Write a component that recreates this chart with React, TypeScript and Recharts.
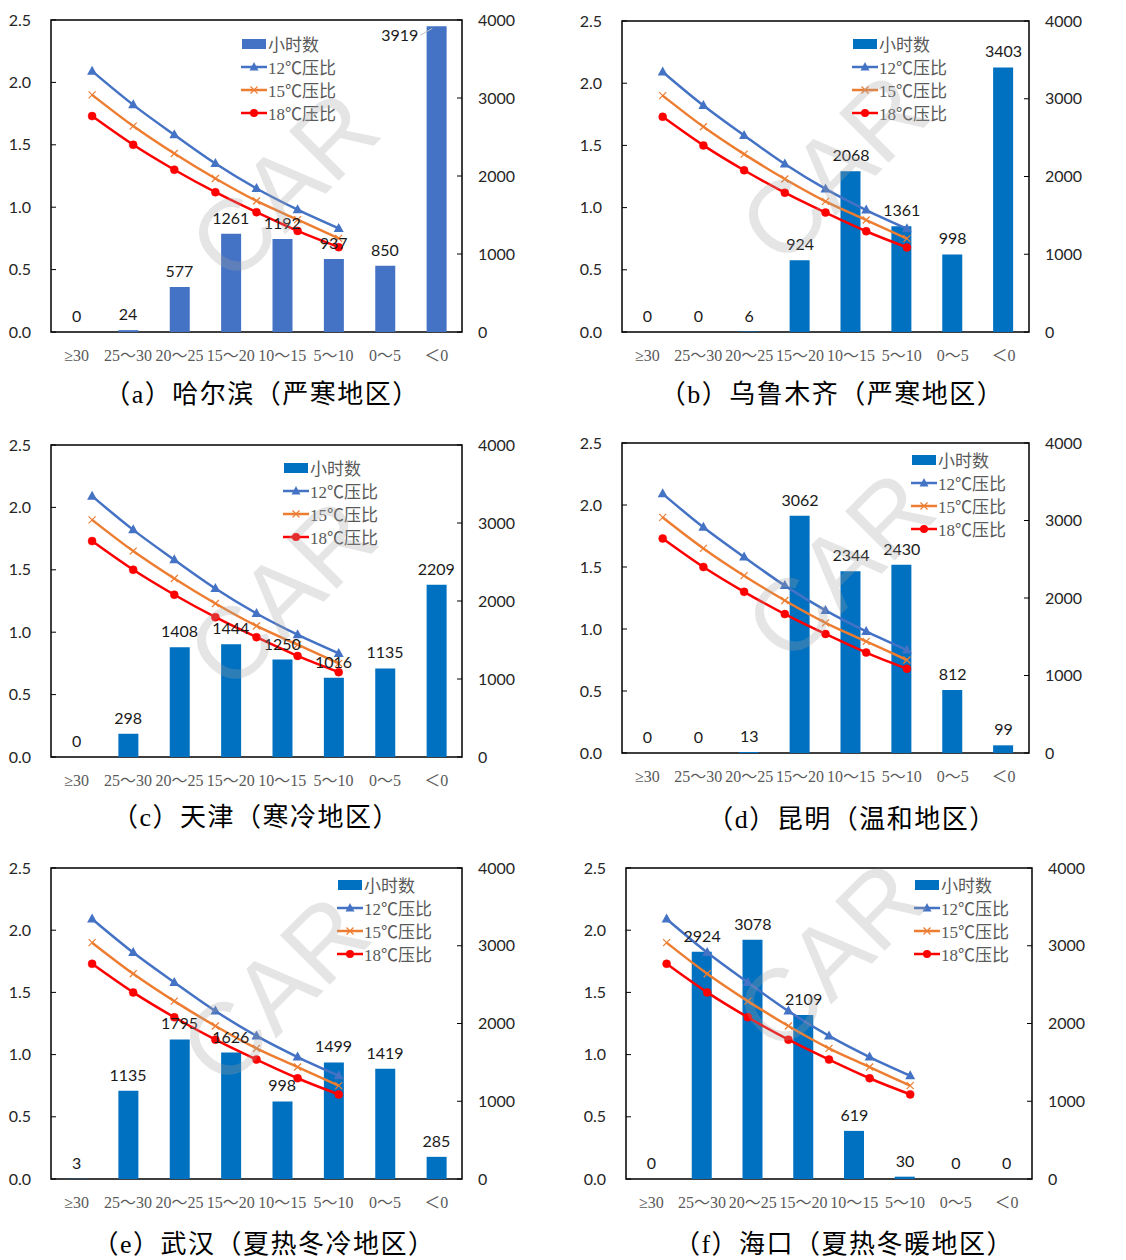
import React from "react";
import { ComposedChart, Bar, Line, XAxis, YAxis, Legend, LabelList, ReferenceArea } from "recharts";

const FONT_NUM = "Lato, 'Liberation Sans', sans-serif";
const FONT_SERIF = "'Liberation Serif', 'Noto Sans CJK SC', serif";

// temperature bins (℃) on the bar axis
const categories = ["≥30", "25～30", "20～25", "15～20", "10～15", "5～10", "0～5", "＜0"];

// annual hours per bin
const hoursHarbin = [0, 24, 577, 1261, 1192, 937, 850, 3919];
const hoursUrumqi = [0, 0, 6, 924, 2068, 1361, 998, 3403];
const hoursTianjin = [0, 298, 1408, 1444, 1250, 1016, 1135, 2209];
const hoursKunming = [0, 0, 13, 3062, 2344, 2430, 812, 99];
const hoursWuhan = [3, 1135, 1795, 1626, 998, 1499, 1419, 285];
const hoursHaikou = [0, 2924, 3078, 2109, 619, 30, 0, 0];

// pressure ratio curves, plotted against outdoor temperature
const outdoorTemps = [30, 25, 20, 15, 10, 5, 0];
const ratio12 = [2.09, 1.82, 1.58, 1.35, 1.15, 0.98, 0.83];
const ratio15 = [1.9, 1.65, 1.43, 1.23, 1.05, 0.9, 0.75];
const ratio18 = [1.73, 1.5, 1.3, 1.12, 0.96, 0.81, 0.68];

const ratioTicks = [0, 0.5, 1, 1.5, 2, 2.5];
const hourTicks = [0, 1000, 2000, 3000, 4000];

const titles = [
  "（a）哈尔滨（严寒地区）",
  "（b）乌鲁木齐（严寒地区）",
  "（c）天津（寒冷地区）",
  "（d）昆明（温和地区）",
  "（e）武汉（夏热冬冷地区）",
  "（f）海口（夏热冬暖地区）",
];

const lineData = outdoorTemps.map((t, i) => ({ t, r12: ratio12[i], r15: ratio15[i], r18: ratio18[i] }));

// layout of each panel: origin, width, plot box [l, t, r, b], legend, watermark, title centre
const panels = [
  { hours: hoursHarbin, color: "#4472C4", x: 0, y: 0, w: 560, plot: [51, 20, 462, 332], legend: [241, 32], mark: [284, 186], titleAt: [262, 395] },
  { hours: hoursUrumqi, color: "#0070C0", x: 560, y: 0, w: 566, plot: [62, 21, 469, 332], legend: [292, 32], mark: [274, 168], titleAt: [272, 395] },
  { hours: hoursTianjin, color: "#0070C0", x: 0, y: 420, w: 560, plot: [51, 25, 462, 337], legend: [283, 36], mark: [282, 174], titleAt: [256, 398] },
  { hours: hoursKunming, color: "#0070C0", x: 560, y: 420, w: 566, plot: [62, 23, 469, 333], legend: [351, 28], mark: [280, 146], titleAt: [292, 400] },
  { hours: hoursWuhan, color: "#0070C0", x: 0, y: 840, w: 560, plot: [51, 28, 462, 339], legend: [337, 33], mark: [275, 150], titleAt: [264, 405] },
  { hours: hoursHaikou, color: "#0070C0", x: 560, y: 840, w: 566, plot: [66, 28, 472, 339], legend: [354, 33], mark: [270, 116], titleAt: [284, 405] },
];

const LeftTick = (props: any) => {
  const { y, payload, axisX } = props;
  return (
    <g>
      <line x1={axisX} x2={axisX + 5} y1={y} y2={y} stroke="#000" strokeWidth={1} />
      <text x={axisX - 20} y={y} dy="0.35em" textAnchor="end" fontSize={16} fontFamily={FONT_NUM} fill="#262626">
        {Number(payload.value).toFixed(1)}
      </text>
    </g>
  );
};

const RightTick = (props: any) => {
  const { y, payload, axisX } = props;
  return (
    <g>
      <line x1={axisX - 5} x2={axisX} y1={y} y2={y} stroke="#000" strokeWidth={1} />
      <text x={axisX + 16} y={y} dy="0.35em" textAnchor="start" fontSize={16} fontFamily={FONT_NUM} fill="#262626">
        {payload.value}
      </text>
    </g>
  );
};

const triDot = (props: any) => {
  const { cx, cy, index } = props;
  return <path key={`tri-${index}`} d={`M${cx},${cy - 5.5} L${cx + 5},${cy + 3.5} L${cx - 5},${cy + 3.5} Z`} fill="#4472C4" />;
};

const crossDot = (props: any) => {
  const { cx, cy, index } = props;
  const s = 3.5;
  return (
    <path
      key={`x-${index}`}
      d={`M${cx - s},${cy - s} L${cx + s},${cy + s} M${cx - s},${cy + s} L${cx + s},${cy - s}`}
      stroke="#ED7D31"
      strokeWidth={1.2}
      fill="none"
    />
  );
};

const circleDot = (props: any) => {
  const { cx, cy, index } = props;
  return <circle key={`c-${index}`} cx={cx} cy={cy} r={4} fill="#FF0000" stroke="#FF0000" strokeWidth={0.5} />;
};

// labels sit on an invisible line through the bar tops, so zero bins get their "0" too
const makeBarLabel = (plotTop: number) => (props: any) => {
  const x = Number(props.x);
  const y = Number(props.y);
  const style = { fontSize: 16, fontFamily: FONT_NUM, fill: "#1a1a1a" };
  if (y - plotTop < 14) {
    // no room above the bar: placed to the left with a leader
    const left = x - 10;
    return (
      <g>
        <text x={left - 8} y={y + 15} textAnchor="end" {...style}>
          {props.value}
        </text>
        <line x1={left - 6} y1={y + 9} x2={left + 6} y2={y + 2} stroke="#bfbfbf" strokeWidth={1} />
      </g>
    );
  }
  return (
    <text x={x} y={y - 10} textAnchor="middle" {...style}>
      {props.value}
    </text>
  );
};

const makeLegend = (barColor: string) => () => {
  const items = [
    { name: "小时数", kind: "bar" },
    { name: "12℃压比", kind: "tri" },
    { name: "15℃压比", kind: "x" },
    { name: "18℃压比", kind: "dot" },
  ];
  return (
    <div style={{ fontFamily: FONT_SERIF, fontSize: 17, color: "#595959" }}>
      {items.map((it) => (
        <div key={it.name} style={{ display: "flex", alignItems: "center", height: 23, whiteSpace: "nowrap" }}>
          <svg width={26} height={14} style={{ display: "block" }}>
            {it.kind === "bar" && <rect x={1} y={2} width={24} height={10} fill={barColor} />}
            {it.kind === "tri" && (
              <g>
                <line x1={0} x2={26} y1={7} y2={7} stroke="#4472C4" strokeWidth={2.5} />
                <path d="M13,2 L17.5,10.5 L8.5,10.5 Z" fill="#4472C4" />
              </g>
            )}
            {it.kind === "x" && (
              <g>
                <line x1={0} x2={26} y1={7} y2={7} stroke="#ED7D31" strokeWidth={2.5} />
                <path d="M9.5,3.5 L16.5,10.5 M9.5,10.5 L16.5,3.5" stroke="#ED7D31" strokeWidth={1.2} />
              </g>
            )}
            {it.kind === "dot" && (
              <g>
                <line x1={0} x2={26} y1={7} y2={7} stroke="#FF0000" strokeWidth={2.5} />
                <circle cx={13} cy={7} r={4} fill="#FF0000" />
              </g>
            )}
          </svg>
          <span style={{ marginLeft: 1 }}>{it.name}</span>
        </div>
      ))}
    </div>
  );
};

function Panel({ p, title }: { p: any; title: string }) {
  const [l, t, r, b] = p.plot;
  const W = p.w;
  const H = b + 40;
  const barData = categories.map((cat, i) => ({ cat, hours: p.hours[i] }));

  return (
    <div style={{ position: "absolute", left: p.x, top: p.y, width: W, height: 420 }}>
      <ComposedChart width={W} height={H} data={barData} margin={{ top: t, right: W - r - 60, bottom: 0, left: 0 }}>
        <XAxis
          xAxisId="cat"
          dataKey="cat"
          height={40}
          interval={0}
          tickLine={false}
          axisLine={false}
          tickSize={0}
          tickMargin={18}
          tick={{ fill: "#595959", fontSize: 16, fontFamily: FONT_SERIF }}
        />
        <XAxis xAxisId="t" type="number" dataKey="t" domain={[-15, 35]} reversed hide allowDataOverflow />
        <YAxis
          yAxisId="ratio"
          width={l}
          domain={[0, 2.5]}
          ticks={ratioTicks}
          interval={0}
          axisLine={false}
          tickLine={false}
          tickSize={0}
          tick={(tp: any) => <LeftTick {...tp} axisX={l} />}
        />
        <YAxis
          yAxisId="hours"
          orientation="right"
          width={60}
          domain={[0, 4000]}
          ticks={hourTicks}
          interval={0}
          axisLine={false}
          tickLine={false}
          tickSize={0}
          tick={(tp: any) => <RightTick {...tp} axisX={r} />}
        />
        <Bar xAxisId="cat" yAxisId="hours" dataKey="hours" name="小时数" fill={p.color} barSize={20} isAnimationActive={false} />
        <Line data={lineData} xAxisId="t" yAxisId="ratio" dataKey="r12" name="12℃压比" type="monotone" stroke="#4472C4" strokeWidth={2.5} dot={triDot} activeDot={false} isAnimationActive={false} />
        <Line data={lineData} xAxisId="t" yAxisId="ratio" dataKey="r15" name="15℃压比" type="monotone" stroke="#ED7D31" strokeWidth={2.5} dot={crossDot} activeDot={false} isAnimationActive={false} />
        <Line data={lineData} xAxisId="t" yAxisId="ratio" dataKey="r18" name="18℃压比" type="monotone" stroke="#FF0000" strokeWidth={2.5} dot={circleDot} activeDot={false} isAnimationActive={false} />
        <Line xAxisId="cat" yAxisId="hours" dataKey="hours" stroke="none" dot={false} activeDot={false} legendType="none" isAnimationActive={false}>
          <LabelList dataKey="hours" content={makeBarLabel(t)} />
        </Line>
        <ReferenceArea xAxisId="t" yAxisId="ratio" x1={35} x2={-15} y1={0} y2={2.5} fill="none" stroke="#000" strokeWidth={1.5} ifOverflow="visible" />
        <Legend
          layout="vertical"
          align="center"
          verticalAlign="middle"
          wrapperStyle={{ left: p.legend[0], top: p.legend[1], width: "auto", height: "auto" }}
          content={makeLegend(p.color)}
        />
      </ComposedChart>
      <div
        style={{
          position: "absolute",
          left: p.mark[0] - 150,
          top: p.mark[1] - 60,
          width: 300,
          height: 120,
          lineHeight: "120px",
          textAlign: "center",
          fontFamily: "'Liberation Sans', sans-serif",
          fontSize: 102,
          color: "rgba(160,160,160,0.28)",
          transform: "rotate(-45deg)",
          pointerEvents: "none",
        }}
      >
        CAR
      </div>
      <div
        style={{
          position: "absolute",
          left: p.titleAt[0] - 260,
          top: p.titleAt[1] - 16,
          width: 520,
          textAlign: "center",
          fontFamily: FONT_SERIF,
          fontSize: 26,
          letterSpacing: 1.5,
          lineHeight: "32px",
          color: "#000",
          whiteSpace: "nowrap",
        }}
      >
        {title}
      </div>
    </div>
  );
}

export default function App() {
  return (
    <div style={{ position: "absolute", left: 0, top: 0, width: 1126, height: 1260, background: "#fff", overflow: "hidden" }}>
      {panels.map((p, i) => (
        <Panel key={i} p={p} title={titles[i]} />
      ))}
    </div>
  );
}
